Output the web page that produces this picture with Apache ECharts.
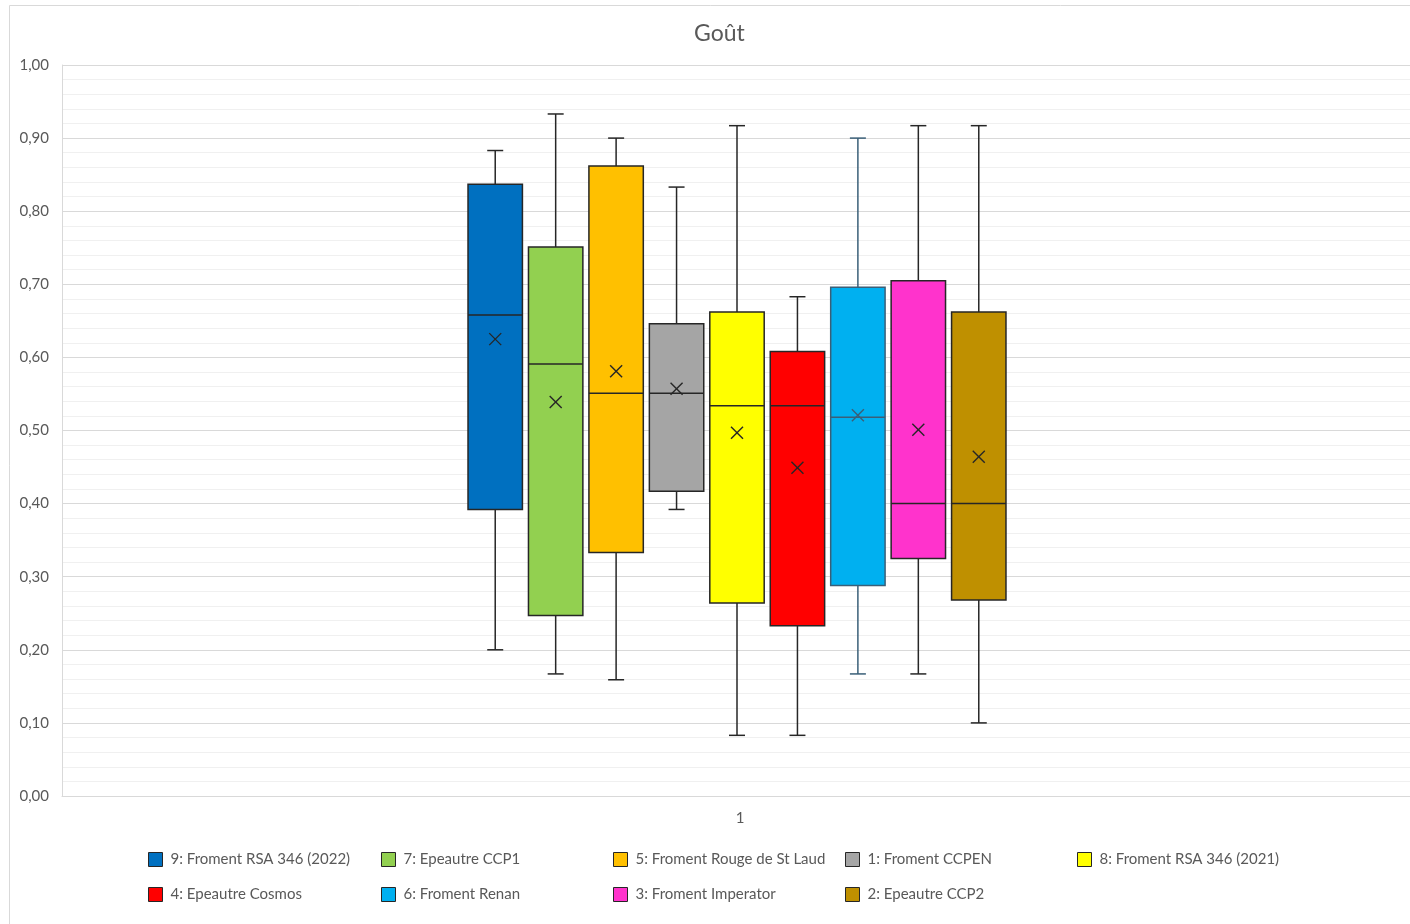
<!DOCTYPE html>
<html>
<head>
<meta charset="utf-8">
<script src="https://cdn.jsdelivr.net/npm/echarts@6/dist/echarts.min.js"></script>
<style>html,body{margin:0;padding:0;background:#fff;}#c{width:1410px;height:924px;}</style>
</head>
<body>
<div id="c"></div>
<script>
const categories = ['1'];
const seriesNames = [
  '9: Froment RSA 346 (2022)', '7: Epeautre CCP1', '5: Froment Rouge de St Laud',
  '1: Froment CCPEN', '8: Froment RSA 346 (2021)', '4: Epeautre Cosmos',
  '6: Froment Renan', '3: Froment Imperator', '2: Epeautre CCP2'
];
const colors = ['#0070C0', '#92D050', '#FFC000', '#A5A5A5', '#FFFF00', '#FF0000', '#00B0F0', '#FF33CC', '#BF9000'];
const edgeColors = ['#262626', '#262626', '#262626', '#262626', '#262626', '#262626', '#3A5F78', '#262626', '#262626'];
const mins    = [0.200, 0.167, 0.159, 0.392, 0.083, 0.083, 0.167, 0.167, 0.100];
const q1s     = [0.392, 0.247, 0.333, 0.417, 0.264, 0.233, 0.288, 0.325, 0.268];
const medians = [0.658, 0.591, 0.551, 0.551, 0.534, 0.534, 0.518, 0.400, 0.400];
const q3s     = [0.837, 0.751, 0.862, 0.646, 0.662, 0.608, 0.696, 0.705, 0.662];
const maxs    = [0.883, 0.933, 0.900, 0.833, 0.917, 0.683, 0.900, 0.917, 0.917];
const means   = [0.625, 0.539, 0.581, 0.557, 0.497, 0.449, 0.521, 0.501, 0.464];

const FONT = 'Lato';
const TXT = '#595959';

function renderBox(params, api) {
  const i = api.value(0);
  const pMin = api.coord([i, api.value(1)]);
  const pQ1 = api.coord([i, api.value(2)]);
  const pMed = api.coord([i, api.value(3)]);
  const pQ3 = api.coord([i, api.value(4)]);
  const pMax = api.coord([i, api.value(5)]);
  const pMean = api.coord([i, api.value(6)]);
  const band = api.size([1, 0])[0];
  const bw = band * 0.9;
  const cx = pMed[0];
  const cap = 8;
  const ec = edgeColors[params.seriesIndex];
  const ls = { stroke: ec, lineWidth: 1.5 };
  const mx = 6;
  return {
    type: 'group',
    children: [
      { type: 'line', shape: { x1: cx, y1: pQ3[1], x2: cx, y2: pMax[1] }, style: ls },
      { type: 'line', shape: { x1: cx - cap, y1: pMax[1], x2: cx + cap, y2: pMax[1] }, style: ls },
      { type: 'line', shape: { x1: cx, y1: pQ1[1], x2: cx, y2: pMin[1] }, style: ls },
      { type: 'line', shape: { x1: cx - cap, y1: pMin[1], x2: cx + cap, y2: pMin[1] }, style: ls },
      { type: 'rect', shape: { x: cx - bw / 2, y: pQ3[1], width: bw, height: pQ1[1] - pQ3[1] },
        style: { fill: colors[params.seriesIndex], stroke: ec, lineWidth: 1.5 } },
      { type: 'line', shape: { x1: cx - bw / 2, y1: pMed[1], x2: cx + bw / 2, y2: pMed[1] }, style: ls },
      { type: 'line', shape: { x1: cx - mx, y1: pMean[1] - mx, x2: cx + mx, y2: pMean[1] + mx }, style: { stroke: ec, lineWidth: 1.4 } },
      { type: 'line', shape: { x1: cx - mx, y1: pMean[1] + mx, x2: cx + mx, y2: pMean[1] - mx }, style: { stroke: ec, lineWidth: 1.4 } }
    ]
  };
}

const series = seriesNames.map((name, i) => ({
  name: name,
  type: 'custom',
  xAxisIndex: 1,
  yAxisIndex: 1,
  itemStyle: { color: colors[i], borderColor: edgeColors[i], borderWidth: 1 },
  encode: { x: 0, y: [1, 2, 3, 4, 5, 6] },
  renderItem: renderBox,
  data: [[i, mins[i], q1s[i], medians[i], q3s[i], maxs[i], means[i]]]
}));

const colX = [148, 381, 613, 845, 1077];
const legends = colX.map((x, c) => {
  const items = [];
  [c, c + 5].forEach(k => {
    if (k < seriesNames.length) {
      items.push({ name: seriesNames[k], icon: 'rect',
        itemStyle: { color: colors[k], borderColor: '#262626', borderWidth: 1 } });
    }
  });
  return {
    orient: 'vertical', left: x, top: 852, padding: 0,
    itemWidth: 14, itemHeight: 14, itemGap: 20,
    selectedMode: false,
    textStyle: { color: TXT, fontSize: 15, fontFamily: FONT, padding: [0, 0, 0, 3] },
    data: items
  };
});

const option = {
  animation: false,
  backgroundColor: '#ffffff',
  graphic: [{ type: 'rect', shape: { x: 9.5, y: 5.5, width: 1500, height: 1000 },
    style: { fill: 'none', stroke: '#d9d9d9', lineWidth: 1 }, silent: true }],
  title: { text: 'Goût', left: 689, top: 17,
    textStyle: { color: TXT, fontSize: 23, fontWeight: 'normal', fontFamily: FONT } },
  legend: legends,
  grid: [
    { left: 62, right: 0, top: 65, bottom: 128 },
    { left: 465, width: 544, top: 65, bottom: 128 }
  ],
  xAxis: [
    { type: 'category', gridIndex: 0, data: categories,
      axisTick: { show: false }, axisLine: { lineStyle: { color: '#d9d9d9', width: 1 } },
      axisLabel: { color: TXT, fontSize: 15, fontFamily: FONT, margin: 15, padding: [0, 0, 0, 8] } },
    { type: 'category', gridIndex: 1, data: seriesNames, show: false }
  ],
  yAxis: [
    { type: 'value', gridIndex: 0, min: 0, max: 1, interval: 0.1,
      axisLine: { show: true, lineStyle: { color: '#d9d9d9' } },
      axisTick: { show: false },
      axisLabel: { color: TXT, fontSize: 15, fontFamily: FONT, margin: 13,
        formatter: v => v.toFixed(2).replace('.', ',') },
      splitLine: { lineStyle: { color: '#d9d9d9', width: 1 } },
      minorTick: { show: false, splitNumber: 5 },
      minorSplitLine: { show: true, lineStyle: { color: '#f0f0f0', width: 1 } } },
    { type: 'value', gridIndex: 1, min: 0, max: 1, show: false }
  ],
  series: series
};

const chart = echarts.init(document.getElementById('c'), null, { renderer: 'canvas' });
chart.setOption(option);
</script>
</body>
</html>
